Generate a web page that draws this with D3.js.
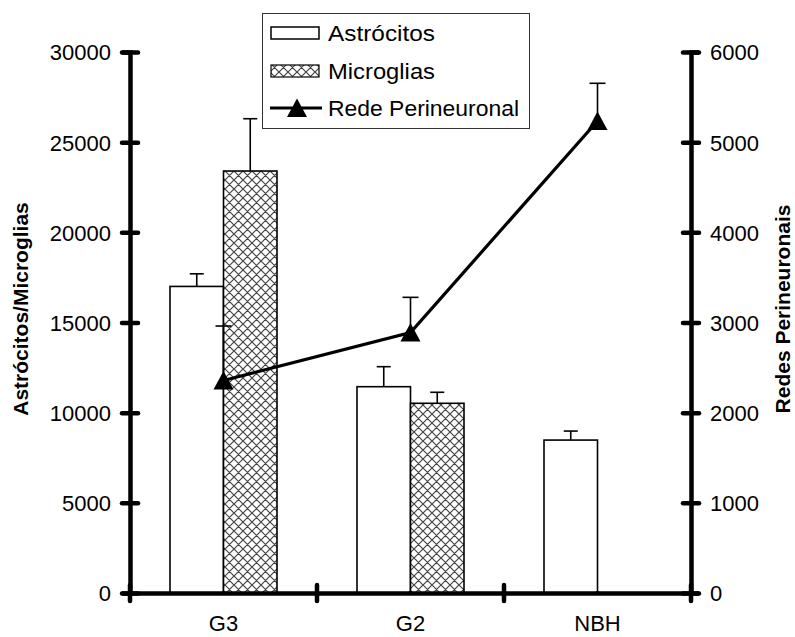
<!DOCTYPE html>
<html><head><meta charset="utf-8">
<script src="https://cdn.jsdelivr.net/npm/d3@7"></script>
<style>body{margin:0;background:#fff}svg{display:block;font-family:"Liberation Sans",Arial,sans-serif}</style>
</head><body><svg id="c" width="795" height="637"></svg>
<script>
const categories = ["G3", "G2", "NBH"];
const astrocitos = [17000, 11440, 8480];
const astrocitosErr = [700, 1110, 500];
const microglias = [23400, 10520, null];
const microgliasErr = [2900, 610, null];
const redePerineuronal = [2357, 2889, 5235];
const redeErr = [604, 390, 418];
const leftTicks = [0, 5000, 10000, 15000, 20000, 25000, 30000];
const rightTicks = [0, 1000, 2000, 3000, 4000, 5000, 6000];
const seriesNames = ["Astrócitos", "Microglias", "Rede Perineuronal"];

const svg = d3.select("#c");
const defs = svg.append("defs");
const pat = defs.append("pattern").attr("id","hatch").attr("patternUnits","userSpaceOnUse")
  .attr("width",9).attr("height",9);
pat.append("rect").attr("width",9).attr("height",9).attr("fill","#fff");
pat.append("path").attr("d","M0,0L9,9M9,0L0,9M-1,8L1,10M8,-1L10,1M8,10L10,8M-1,1L1,-1")
  .attr("stroke","#444").attr("stroke-width",1.2);

const x = d3.scaleBand().domain(categories).range([130, 691]).padding(0);
const xSub = d3.scaleBand().domain(["a","m"]).range([40, x.step()-40]).padding(0);
const yL = d3.scaleLinear().domain([0, 30000]).range([593, 52]);
const yR = d3.scaleLinear().domain([0, 6000]).range([593, 52]);

const g = svg.append("g");
const barData = [];
categories.forEach((c,i)=>{
  barData.push({c, k:"a", v:astrocitos[i], e:astrocitosErr[i]});
  if (microglias[i] != null) barData.push({c, k:"m", v:microglias[i], e:microgliasErr[i]});
});
g.selectAll("rect.bar").data(barData).enter().append("rect").attr("class","bar")
  .attr("x", d=>x(d.c)+xSub(d.k)).attr("width", xSub.bandwidth())
  .attr("y", d=>yL(d.v)).attr("height", d=>yL(0)-yL(d.v))
  .attr("fill", d=>d.k==="a"?"#fff":"url(#hatch)").attr("stroke","#000").attr("stroke-width",1.6);
barData.forEach(d=>{
  const cx = x(d.c)+xSub(d.k)+xSub.bandwidth()/2;
  g.append("line").attr("x1",cx).attr("x2",cx).attr("y1",yL(d.v)).attr("y2",yL(d.v+d.e))
    .attr("stroke","#000").attr("stroke-width",1.6);
  g.append("line").attr("x1",cx-7).attr("x2",cx+7).attr("y1",yL(d.v+d.e)).attr("y2",yL(d.v+d.e))
    .attr("stroke","#000").attr("stroke-width",1.6);
});

const cxLine = c => x(c)+x.bandwidth()/2;
const lineData = categories.map((c,i)=>({c, v:redePerineuronal[i], e:redeErr[i]}));
g.append("path").datum(lineData)
  .attr("d", d3.line().x(d=>cxLine(d.c)).y(d=>yR(d.v)))
  .attr("fill","none").attr("stroke","#000").attr("stroke-width",3.2);
lineData.forEach(d=>{
  const cx = cxLine(d.c);
  g.append("line").attr("x1",cx).attr("x2",cx).attr("y1",yR(d.v)).attr("y2",yR(d.v+d.e))
    .attr("stroke","#000").attr("stroke-width",1.6);
  g.append("line").attr("x1",cx-8).attr("x2",cx+8).attr("y1",yR(d.v+d.e)).attr("y2",yR(d.v+d.e))
    .attr("stroke","#000").attr("stroke-width",1.6);
});
const tri = "M0,-9.5L10,9L-10,9Z";
g.selectAll("path.mk").data(lineData).enter().append("path").attr("class","mk")
  .attr("d",tri).attr("transform",d=>`translate(${cxLine(d.c)},${yR(d.v)})`).attr("fill","#000");

function styleAxis(sel){
  sel.select(".domain").attr("stroke","#000").attr("stroke-width",4.5);
  sel.selectAll(".tick line").attr("stroke","#000").attr("stroke-width",4.5).attr("stroke-linecap","round");
  sel.selectAll("text").attr("fill","#000").attr("font-size",22).attr("font-family","Liberation Sans, Arial, sans-serif");
}
const axL = svg.append("g").attr("transform","translate(130,0)")
  .call(d3.axisLeft(yL).tickValues(leftTicks).tickFormat(d3.format("d")).tickSizeOuter(0).tickSize(8));
axL.selectAll(".tick line").attr("x1",-8).attr("x2",8);
axL.selectAll(".tick text").attr("x",-19).attr("dy","0.36em");
styleAxis(axL);
const axR = svg.append("g").attr("transform","translate(691,0)")
  .call(d3.axisRight(yR).tickValues(rightTicks).tickFormat(d3.format("d")).tickSizeOuter(0).tickSize(8));
axR.selectAll(".tick line").attr("x1",-8).attr("x2",8);
axR.selectAll(".tick text").attr("x",19).attr("dy","0.36em");
styleAxis(axR);
const axB = svg.append("g").attr("transform","translate(0,593)")
  .call(d3.axisBottom(x).tickSize(0).tickSizeOuter(0).tickPadding(22));
styleAxis(axB);
axB.selectAll(".tick text").attr("dy","0.71em");
const bounds = categories.map(c=>x(c)).concat([x(categories[categories.length-1])+x.step()]);
axB.selectAll("line.sep").data(bounds).enter().append("line").attr("class","sep")
  .attr("x1",d=>d).attr("x2",d=>d).attr("y1",-8).attr("y2",8)
  .attr("stroke","#000").attr("stroke-width",4.5).attr("stroke-linecap","round");

svg.append("text").attr("transform","translate(28,309) rotate(-90)").attr("text-anchor","middle")
  .attr("font-size",21).attr("font-weight","bold").text("Astrócitos/Microglias");
svg.append("text").attr("transform","translate(790,309) rotate(-90)").attr("text-anchor","middle")
  .attr("font-size",21).attr("font-weight","bold").text("Redes Perineuronais");

const lg = svg.append("g");
lg.append("rect").attr("x",262.5).attr("y",13.5).attr("width",267).attr("height",115)
  .attr("fill","#fff").attr("stroke","#333").attr("stroke-width",1);
const rowY = [33, 71, 108];
const textLens = [107, 107, 191];
lg.append("rect").attr("x",271).attr("y",rowY[0]-6).attr("width",48).attr("height",12)
  .attr("fill","#fff").attr("stroke","#000").attr("stroke-width",1.5);
lg.append("rect").attr("x",271).attr("y",rowY[1]-6).attr("width",48).attr("height",12)
  .attr("fill","url(#hatch)").attr("stroke","#000").attr("stroke-width",1.2);
lg.append("line").attr("x1",270).attr("x2",322).attr("y1",rowY[2]).attr("y2",rowY[2])
  .attr("stroke","#000").attr("stroke-width",3.2);
lg.append("path").attr("d",tri).attr("transform",`translate(297,${rowY[2]})`).attr("fill","#000");
lg.selectAll("text.lt").data(seriesNames).enter().append("text").attr("class","lt")
  .attr("x",328).attr("y",(d,i)=>rowY[i]).attr("dy","0.35em").attr("font-size",22)
  .attr("textLength",(d,i)=>textLens[i]).attr("lengthAdjust","spacingAndGlyphs").text(d=>d);
</script></body></html>
